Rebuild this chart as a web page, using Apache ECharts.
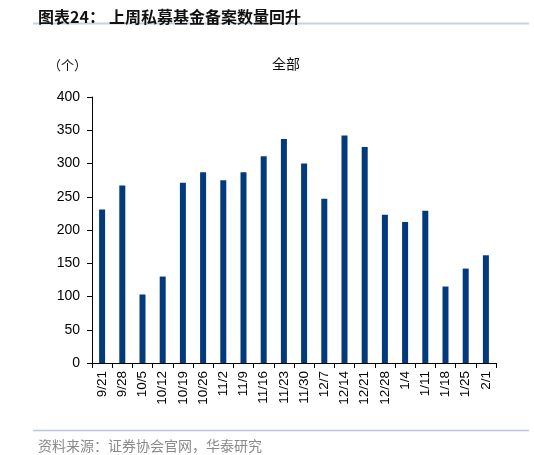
<!DOCTYPE html>
<html><head><meta charset="utf-8">
<script src="https://cdn.jsdelivr.net/npm/echarts@6/dist/echarts.min.js"></script>
<style>html,body{margin:0;padding:0;background:#fff}#c{width:534px;height:455px}</style>
</head><body><div id="c"></div>
<script>
const categories = ['9/21','9/28','10/5','10/12','10/19','10/26','11/2','11/9','11/16','11/23','11/30','12/7','12/14','12/21','12/28','1/4','1/11','1/18','1/25','2/1'];
const values = [231,267,103,130,271,287,275,287,311,337,300,247,342,325,223,212,229,115,142,162];
const yTicks = [0,50,100,150,200,250,300,350,400];

const chart = echarts.init(document.getElementById('c'));
const cjk = '"Noto Sans CJK SC", sans-serif';
chart.setOption({
  animation: false,
  backgroundColor: '#fff',
  title: [
    {text: '图表24：', left: 33, top: 4,
     textStyle: {fontSize: 16, fontWeight: 'bold', color: '#111', fontFamily: cjk}},
    {text: '上周私募基金备案数量回升', left: 104, top: 4,
     textStyle: {fontSize: 16, fontWeight: 'bold', color: '#111', fontFamily: cjk}},
    {text: '全部', left: 267, top: 52,
     textStyle: {fontSize: 14, fontWeight: 'normal', color: '#111', fontFamily: cjk}},
    {text: '（个）', left: 43, top: 54,
     textStyle: {fontSize: 13, fontWeight: 'normal', color: '#111', fontFamily: cjk}},
    {text: '资料来源：证券协会官网，华泰研究', left: 33, top: 434,
     textStyle: {fontSize: 14, fontWeight: 'normal', color: '#8a8a8a', fontFamily: cjk}}
  ],
  graphic: [
    {type: 'line', shape: {x1: 33, y1: 23.5, x2: 529, y2: 23.5}, style: {stroke: '#c5d3df', lineWidth: 2}},
    {type: 'line', shape: {x1: 33, y1: 430.5, x2: 529, y2: 430.5}, style: {stroke: '#b8c8dc', lineWidth: 1.5}}
  ],
  grid: {left: 92, right: 38, top: 97, bottom: 92, containLabel: false},
  xAxis: {
    type: 'category', data: categories,
    axisLine: {lineStyle: {color: '#000', width: 1}},
    axisTick: {show: true, length: 5, lineStyle: {color: '#000'}},
    axisLabel: {rotate: 90, interval: 0, fontSize: 13.5, color: '#000', fontFamily: 'Liberation Sans, Arial', margin: 8}
  },
  yAxis: {
    type: 'value', min: yTicks[0], max: yTicks[yTicks.length-1], interval: 50,
    axisLine: {show: true, lineStyle: {color: '#000', width: 1}},
    axisTick: {show: true, length: 5, lineStyle: {color: '#000'}},
    splitLine: {show: false},
    axisLabel: {fontSize: 14, color: '#000', fontFamily: 'Liberation Sans, Arial', margin: 12}
  },
  series: [{
    type: 'bar', data: values, barWidth: 6,
    itemStyle: {color: '#023a7c'}
  }]
});
</script></body></html>
